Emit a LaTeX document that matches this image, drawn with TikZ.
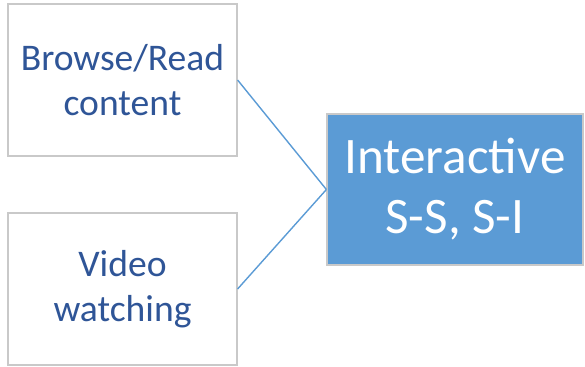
\documentclass[tikz,border=0pt]{standalone}
\usepackage{fontspec}
\setmainfont{Carlito}
\usetikzlibrary{positioning}
\definecolor{txtblue}{HTML}{2F5597}
\definecolor{boxblue}{HTML}{5B9BD5}
\definecolor{boxgray}{HTML}{C9C9C9}
\begin{document}
\begin{tikzpicture}[x=0.5pt,y=-0.5pt,
        activity/.style={% For the activities on the left
            rectangle,
            draw=boxgray,
            line width=0.6pt,
            fill=white,
            minimum width=114.5pt,
            minimum height=76pt,
            align=center,
            text=txtblue,
            font=\fontsize{18.8}{22.5}\selectfont,
            },
        result/.style={% For the main box
            rectangle,
            draw=boxgray,
            line width=0.6pt,
            fill=boxblue,
            minimum width=128pt,
            minimum height=75.5pt,
            align=center,
            text=white,
            font=\fontsize{25.6}{30}\selectfont,
            },
        link/.style={% Connectors
            draw=boxblue,
            line width=0.7pt,
            },
            ]
         \useasboundingbox (0,0) rectangle (585,366);
         \node[activity] (browse) at (122.5,80) {Browse/Read\\content};
         \node[activity] (video) at (122.5,289) {Video\\watching};
         \node[result] (inter) at (455,189.5) {Interactive\\S-S, S-I};
            % Connect activities to the main box
            \draw[link] (browse.east) -- (inter.west);
            \draw[link] (video.east) -- (inter.west);
        \end{tikzpicture}
\end{document}
